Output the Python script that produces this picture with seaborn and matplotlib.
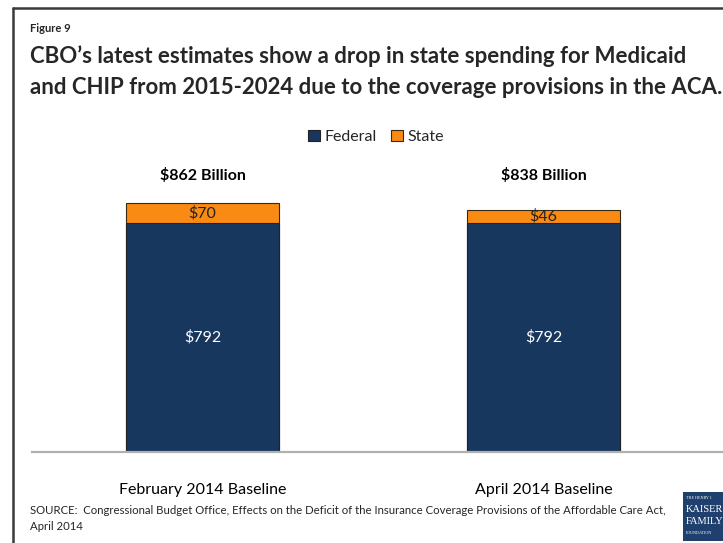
import matplotlib
matplotlib.use("Agg")
import matplotlib.pyplot as plt
import seaborn as sns
import pandas as pd
from matplotlib.patches import Rectangle

# Data (billions of dollars, 2015-2024)
baselines = ["February 2014 Baseline", "April 2014 Baseline"]
federal = [792, 792]
state = [70, 46]
totals = [f + s for f, s in zip(federal, state)]

NAVY = "#17375E"
ORANGE = "#F98A14"

sns.set_theme(style="white")
plt.rcParams["font.family"] = ["Lato", "DejaVu Sans"]

W, H = 723, 543
fig = plt.figure(figsize=(W / 100, H / 100), dpi=100)

df = pd.DataFrame({"baseline": baselines, "federal": federal,
                   "state": state, "total": totals})

# axes: x from 32px to right edge, baseline at y=452px
ax_left, ax_right = 32, 723
ax_top, ax_bottom = 140, 452
ax = fig.add_axes([ax_left / W, 1 - ax_bottom / H,
                   (ax_right - ax_left) / W, (ax_bottom - ax_top) / H])

px_per_unit = 229 / 792
ymax = (ax_bottom - ax_top) / px_per_unit
bar_w = 0.449

sns.barplot(data=df, x="baseline", y="total", color=ORANGE, width=bar_w,
            edgecolor="#3a2a10", linewidth=0.8, saturation=1, ax=ax)
sns.barplot(data=df, x="baseline", y="federal", color=NAVY, width=bar_w,
            edgecolor="#222222", linewidth=0.8, saturation=1, ax=ax)

ax.set_xlim(-0.5, -0.5 + (ax_right - ax_left) / 341)
ax.set_ylim(0, ymax)
ax.set_xlabel("")
ax.set_ylabel("")
ax.set_yticks([])
ax.set_xticks([])
for side in ["left", "right", "top"]:
    ax.spines[side].set_visible(False)
ax.spines["bottom"].set_color("#B0B0B0")
ax.spines["bottom"].set_linewidth(1.6)

# total labels sit on a common line above the bars
total_label_y = (ax_bottom - 176) / px_per_unit
for i, name in enumerate(baselines):
    ax.text(i, -38 / px_per_unit, name, ha="center", va="center",
            fontsize=11.5, color="black")
    ax.text(i, federal[i] / 2, f"${federal[i]}", ha="center", va="center",
            fontsize=11.5, color="white")
    ax.text(i, federal[i] + state[i] / 2, f"${state[i]}", ha="center",
            va="center", fontsize=11.5, color="#222222")
    ax.text(i, total_label_y, f"${totals[i]} Billion", ha="center",
            va="center", fontsize=11.5, fontweight="bold", color="black")

# legend
handles = [Rectangle((0, 0), 1, 1, facecolor=NAVY, edgecolor="#222222", lw=0.8),
           Rectangle((0, 0), 1, 1, facecolor=ORANGE, edgecolor="#3a2a10", lw=0.8)]
fig.legend(handles, ["Federal", "State"], loc="center",
           bbox_to_anchor=(376 / W, 1 - 137 / H), ncol=2, frameon=False,
           fontsize=11.5, handlelength=0.75, handleheight=0.75,
           handletextpad=0.25, columnspacing=0.9)

# titles
fig.text(30 / W, 1 - 28 / H, "Figure 9", fontsize=8, fontweight="bold",
         va="center", ha="left")
fig.text(30 / W, 1 - 56 / H,
         "CBO\u2019s latest estimates show a drop in state spending for Medicaid",
         fontsize=16, fontweight="bold", va="center", ha="left")
fig.text(30 / W, 1 - 88 / H,
         "and CHIP from 2015-2024 due to the coverage provisions in the ACA.",
         fontsize=16, fontweight="bold", va="center", ha="left")

# source note
fig.text(30 / W, 1 - 510 / H,
         "SOURCE:  Congressional Budget Office, Effects on the Deficit of the "
         "Insurance Coverage Provisions of the Affordable Care Act,",
         fontsize=8.2, va="center", ha="left")
fig.text(30 / W, 1 - 527 / H, "April 2014", fontsize=8.2, va="center",
         ha="left")

# frame lines on top and left
fig.add_artist(plt.Line2D([13 / W, 1], [1 - 8 / H, 1 - 8 / H],
                          color="#3A3A3A", lw=1.8, transform=fig.transFigure))
fig.add_artist(plt.Line2D([13 / W, 13 / W], [0, 1 - 8 / H],
                          color="#3A3A3A", lw=1.8, transform=fig.transFigure))

# foundation logo block
lx, ly, lw_, lh = 683, 492, 45, 49
fig.add_artist(Rectangle((lx / W, 1 - (ly + lh) / H), lw_ / W, lh / H,
                         facecolor="#1F3F6E", edgecolor="none",
                         transform=fig.transFigure))
logo_lines = [("THE HENRY J.", 3.0, 498), ("KAISER", 7.5, 509),
              ("FAMILY", 7.5, 521), ("FOUNDATION", 3.0, 533)]
for txt, fs, yy in logo_lines:
    fig.text((lx + 3) / W, 1 - yy / H, txt, fontsize=fs, color="white",
             family=["Liberation Serif", "DejaVu Serif"], va="center",
             ha="left")

fig.savefig("out.png", dpi=100, facecolor="white")
